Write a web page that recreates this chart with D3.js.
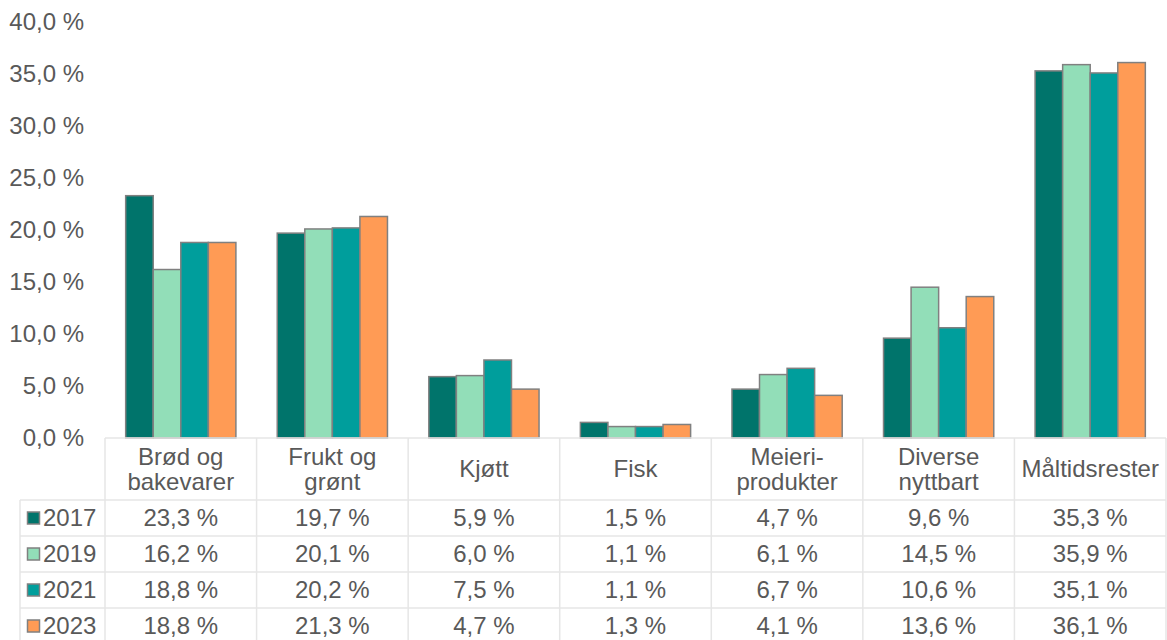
<!DOCTYPE html>
<html>
<head>
<meta charset="utf-8">
<script src="https://cdn.jsdelivr.net/npm/d3@7"></script>
<style>
  html, body { margin: 0; padding: 0; background: #fff; }
  svg { display: block; font-family: "Liberation Sans", Arial, sans-serif; }
</style>
</head>
<body>
<svg id="chart" width="1167" height="640"></svg>
<script>
// Food waste composition by category and survey year
const categories = [
  ["Brød og", "bakevarer"],
  ["Frukt og", "grønt"],
  ["Kjøtt"],
  ["Fisk"],
  ["Meieri-", "produkter"],
  ["Diverse", "nyttbart"],
  ["Måltidsrester"]
];
const years = ["2017", "2019", "2021", "2023"];
const values2017 = [23.3, 19.7, 5.9, 1.5, 4.7, 9.6, 35.3];
const values2019 = [16.2, 20.1, 6.0, 1.1, 6.1, 14.5, 35.9];
const values2021 = [18.8, 20.2, 7.5, 1.1, 6.7, 10.6, 35.1];
const values2023 = [18.8, 21.3, 4.7, 1.3, 4.1, 13.6, 36.1];
const yTicks = [0, 5, 10, 15, 20, 25, 30, 35, 40];

const series = [values2017, values2019, values2021, values2023];
const colors = ["#00746B", "#92DEB8", "#009E9C", "#FF9B55"];

const fmt = v => v.toFixed(1).replace(".", ",") + " %";

const svg = d3.select("#chart");
const plotLeft = 105, plotRight = 1166, plotTop = 22, base = 438;
const textColor = "#595959";
const gridColor = "#E6E6E6";
const fontSize = 24;
const fontFamily = "'Liberation Sans', Arial, sans-serif";

const catIdx = d3.range(categories.length);
const x = d3.scaleBand().domain(catIdx).range([plotLeft, plotRight]).paddingInner(0).paddingOuter(0);
const xi = d3.scaleBand().domain(d3.range(years.length)).range([0, x.bandwidth()]).paddingOuter(0.75).paddingInner(0);
const y = d3.scaleLinear().domain([0, 40]).range([base, plotTop]);

// Y axis labels
const yAxis = d3.axisLeft(y).tickValues(yTicks).tickFormat(fmt).tickSize(0).tickPadding(0);
const yg = svg.append("g").attr("transform", `translate(84,0)`).call(yAxis)
  .attr("font-family", fontFamily).attr("font-size", fontSize);
yg.select(".domain").remove();
yg.selectAll("text").attr("fill", textColor).attr("dy", "0.33em");

// Bars
const groups = svg.append("g").selectAll("g").data(catIdx).join("g")
  .attr("transform", i => `translate(${x(i)},0)`);
groups.selectAll("rect")
  .data(i => series.map((s, k) => ({ k, v: s[i] })))
  .join("rect")
  .attr("x", d => xi(d.k))
  .attr("width", xi.bandwidth())
  .attr("y", d => y(d.v))
  .attr("height", d => base - y(d.v))
  .attr("fill", d => colors[d.k])
  .attr("stroke", "#808080")
  .attr("stroke-width", 1.5);

// Data table
const headerBottom = 500;
const rowH = 36;
const tableLeft = 20;
const tbl = svg.append("g").attr("font-family", fontFamily).attr("font-size", fontSize);
const line = (x1, y1, x2, y2) => tbl.append("line")
  .attr("x1", x1).attr("y1", y1).attr("x2", x2).attr("y2", y2)
  .attr("stroke", gridColor).attr("stroke-width", 1.5);

line(plotLeft, base, plotRight, base);
for (let r = 0; r < years.length; r++) {
  line(tableLeft, headerBottom + r * rowH, plotRight, headerBottom + r * rowH);
}
line(tableLeft, headerBottom, tableLeft, 640);
catIdx.forEach(i => line(x(i), base, x(i), 640));
line(plotRight, base, plotRight, 640);

// Category headers
catIdx.forEach(i => {
  const lines = categories[i];
  const cx = x(i) + x.bandwidth() / 2;
  const mid = (base + headerBottom) / 2;
  const lh = 25;
  const t = tbl.append("text").attr("text-anchor", "middle").attr("fill", textColor);
  lines.forEach((s, j) => {
    t.append("tspan").attr("x", cx)
      .attr("y", mid + (j - (lines.length - 1) / 2) * lh)
      .attr("dy", "0.35em").text(s);
  });
});

// Rows with legend keys and values
years.forEach((yr, k) => {
  const cy = headerBottom + k * rowH + rowH / 2;
  tbl.append("rect").attr("x", 27.5).attr("y", cy - 6).attr("width", 12).attr("height", 12)
    .attr("fill", colors[k]).attr("stroke", "#808080").attr("stroke-width", 1.5);
  tbl.append("text").attr("x", 43).attr("y", cy).attr("dy", "0.35em")
    .attr("fill", textColor).text(yr);
  catIdx.forEach(i => {
    tbl.append("text").attr("x", x(i) + x.bandwidth() / 2).attr("y", cy).attr("dy", "0.35em")
      .attr("text-anchor", "middle").attr("fill", textColor)
      .text(fmt(series[k][i]));
  });
});
</script>
</body>
</html>
